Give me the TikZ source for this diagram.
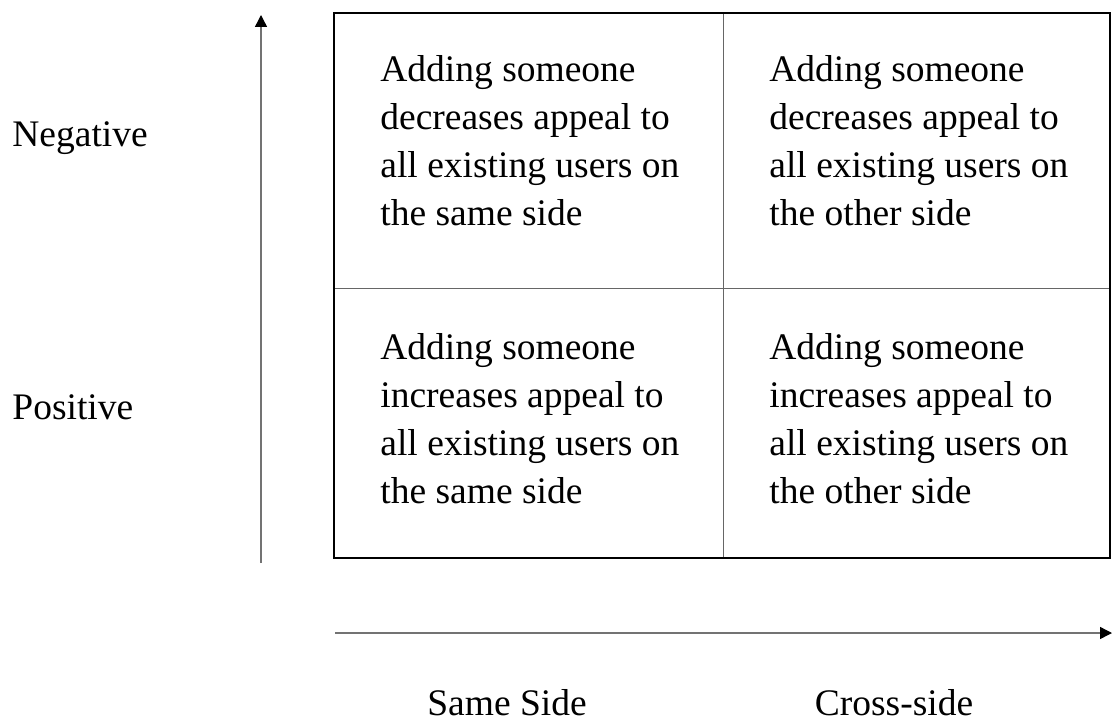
\documentclass[tikz,border=0pt]{standalone}
\usepackage{fontspec}
\setmainfont{Liberation Serif}
\usetikzlibrary{positioning, arrows.meta}
\tikzset{
x=0.5pt, y=-0.5pt, % one unit is one pixel of the layout
cell/.style={anchor=north west, inner sep=0pt, align=left, font=\fontsize{18.75}{24}\selectfont}, % the text in the four boxes
axislabel/.style={inner sep=0pt, font=\fontsize{18.75}{24}\selectfont}, % labels along the two axes
axis/.style={draw=black!55, line width=0.7pt, -{Triangle[length=6pt, width=6pt, color=black]}}, % the two arrows
grid/.style={draw=black!60, line width=0.5pt}, % inner lines of the box
}

\begin{document}
\begin{tikzpicture}

\useasboundingbox (0,0) rectangle (1112,722);

% the box
\coordinate (tl) at (334,13);
\coordinate (br) at (1110,558);
\draw[grid] (723,13) -- (723,558);
\draw[grid] (334,288) -- (1110,288);
\draw[line width=1.1pt] (tl) rectangle (br);

\node[cell] at (380,55) (nw) {Adding someone\\decreases appeal to\\all existing users on\\the same side};
\node[cell] at (769,55) (ne) {Adding someone\\decreases appeal to\\all existing users on\\the other side};
\node[cell] at (380,333) (sw) {Adding someone\\increases appeal to\\all existing users on\\the same side};
\node[cell] at (769,333) (se) {Adding someone\\increases appeal to\\all existing users on\\the other side};

% axes
\coordinate (ybot) at (261,563);
\coordinate (ytop) at (261,15);
\coordinate (xleft) at (335,633);
\coordinate (xright) at (1112,633);
\draw[axis] (ybot) -- (ytop);
\draw[axis] (xleft) -- (xright);

\node[axislabel, anchor=base west] at (12,147) (neg) {Negative};
\node[axislabel, anchor=base west] at (12,419) (pos) {Positive};
\node[axislabel, anchor=base] at (507,715) (same) {Same Side};
\node[axislabel, anchor=base] at (894,715) (cross) {Cross-side};

\end{tikzpicture}
\end{document}
